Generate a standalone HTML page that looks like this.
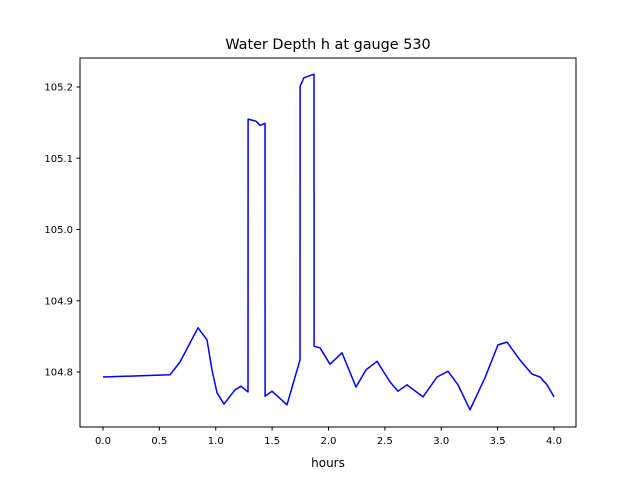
<!DOCTYPE html>
<html><head><meta charset="utf-8"><style>
body{margin:0;background:#fff;}
svg text{font-family:"DejaVu Sans","Liberation Sans",sans-serif;}
</style></head><body>
<svg id="chart" width="640" height="480" xmlns="http://www.w3.org/2000/svg">
<rect width="640" height="480" fill="#fff"/>
<text x="328" y="49" font-size="14.4" text-anchor="middle">Water Depth h at gauge 530</text>
<g id="plot"></g>
<rect x="80" y="58" width="496" height="369" fill="none" stroke="#000" stroke-width="1"/>
<text x="328" y="467" font-size="12" text-anchor="middle">hours</text>
</svg>
<script>
const hours=[0,0.594,0.683,0.843,0.922,0.967,1.011,1.073,1.171,1.224,1.286,1.287,1.357,1.393,1.437,1.438,1.499,1.632,1.747,1.748,1.783,1.836,1.871,1.872,1.925,2.013,2.120,2.244,2.333,2.430,2.546,2.616,2.696,2.838,2.962,3.060,3.149,3.255,3.388,3.503,3.583,3.698,3.805,3.876,3.938,4.0];
const depth=[104.793,104.796,104.814,104.862,104.845,104.803,104.771,104.755,104.775,104.780,104.772,105.155,105.152,105.146,105.149,104.766,104.773,104.754,104.817,105.201,105.213,105.216,105.218,104.836,104.834,104.811,104.827,104.779,104.803,104.815,104.786,104.773,104.782,104.765,104.793,104.801,104.782,104.747,104.792,104.838,104.842,104.817,104.797,104.793,104.782,104.765];
const xTicks=[0,0.5,1,1.5,2,2.5,3,3.5,4];
const xTickLabels=["0.0","0.5","1.0","1.5","2.0","2.5","3.0","3.5","4.0"];
const yTicks=[104.8,104.9,105.0,105.1,105.2];
const yTickLabels=["104.8","104.9","105.0","105.1","105.2"];
const X=v=>103+v*112.75;
const Y=v=>372-(v-104.8)*712.5;
const NS="http://www.w3.org/2000/svg";
const g=document.getElementById('plot');
function mk(t,a){const e=document.createElementNS(NS,t);for(const k in a)e.setAttribute(k,a[k]);g.appendChild(e);return e;}
xTicks.forEach((t,i)=>{
 const l=mk('line',{x1:X(t),x2:X(t),y1:427,y2:430.5,stroke:'#000'});
 
 
 const tx=mk('text',{x:X(t),y:444,'font-size':10,'text-anchor':'middle'});
 tx.textContent=xTickLabels[i];
 
 
});
yTicks.forEach((t,i)=>{
 const l=mk('line',{x1:76.5,x2:80,y1:Y(t),y2:Y(t),stroke:'#000'});
 
 
 const tx=mk('text',{x:73,y:Y(t)+3.5,'font-size':10,'text-anchor':'end'});
 tx.textContent=yTickLabels[i];
 
 
});
const pts=hours.map((h,i)=>X(h).toFixed(1)+','+Y(depth[i]).toFixed(1)).join(' ');
const line=mk('polyline',{points:pts,fill:'none',stroke:'#0000ff','stroke-width':1.5,'stroke-linejoin':'round'});


</script>
</body></html>
